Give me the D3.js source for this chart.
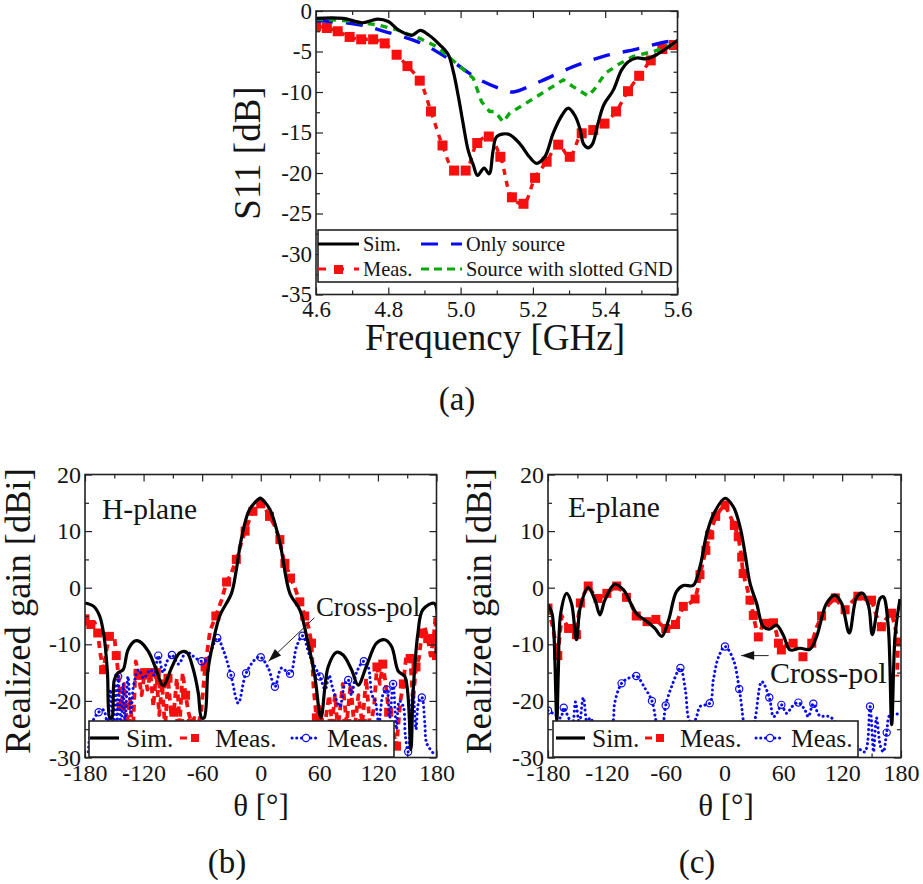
<!DOCTYPE html>
<html>
<head>
<meta charset="utf-8">
<script src="https://cdn.jsdelivr.net/npm/d3@7"></script>
<style>
  html, body { margin: 0; padding: 0; background: #fff; }
  svg { display: block; }
  text { font-family: "Liberation Serif", serif; fill: #141414; }
</style>
</head>
<body>
<div id="vis-container"></div>
<script>
const width = 923;
const height = 884;

// S11 panel, [frequency GHz, dB]
const s11Sim = [[4.6,-0.9],[4.675,-0.9],[4.73,-1.45],[4.77,-1.0],[4.8,-1.3],[4.83,-2.4],[4.865,-3.0],[4.888,-2.4],[4.91,-2.9],[4.943,-4.2],[4.966,-5.4],[4.98,-7.5],[4.994,-10.6],[5.007,-13.9],[5.021,-17.2],[5.035,-19.0],[5.047,-20.3],[5.065,-19.4],[5.079,-20.1],[5.09,-17.2],[5.1,-15.5],[5.132,-15.2],[5.164,-16.4],[5.19,-18],[5.21,-18.8],[5.233,-18],[5.256,-15.1],[5.28,-12.9],[5.298,-12],[5.316,-12.9],[5.33,-14.5],[5.34,-16.4],[5.353,-16.9],[5.365,-16.4],[5.38,-13.9],[5.396,-11.6],[5.422,-9.8],[5.445,-7.3],[5.463,-6.3],[5.487,-5.8],[5.514,-5.9],[5.542,-5.4],[5.57,-4.6],[5.6,-3.6]];
const s11Meas = [[4.6,-1.9],[4.63,-2.1],[4.66,-2.5],[4.693,-3.2],[4.725,-3.5],[4.758,-3.5],[4.79,-4],[4.823,-5.4],[4.853,-6.8],[4.887,-8.6],[4.918,-12.4],[4.95,-16.6],[4.982,-19.7],[5.014,-19.7],[5.046,-16.3],[5.078,-15.5],[5.11,-18],[5.142,-23],[5.174,-23.8],[5.206,-20.6],[5.238,-18.6],[5.27,-16.5],[5.302,-18],[5.335,-15.1],[5.367,-14.7],[5.398,-13.9],[5.43,-12.4],[5.463,-9.9],[5.494,-8],[5.526,-6.1],[5.558,-4.7],[5.59,-4.2]];
const s11Source = [[4.6,-1.2],[4.64,-1.3],[4.72,-1.7],[4.795,-2.6],[4.887,-3.9],[4.97,-6],[5.053,-8.5],[5.127,-9.85],[5.146,-10],[5.22,-8.7],[5.31,-6.9],[5.395,-5.6],[5.487,-4.7],[5.57,-3.8],[5.6,-3.7]];
const s11Slotted = [[4.6,-1],[4.685,-1.2],[4.73,-1.5],[4.77,-1.7],[4.823,-2.3],[4.888,-3.4],[4.934,-4.4],[4.989,-6.5],[5.035,-8.3],[5.058,-11.2],[5.08,-12.4],[5.095,-12.4],[5.118,-13.7],[5.136,-12.6],[5.173,-11.6],[5.238,-9.8],[5.284,-8.5],[5.31,-9.3],[5.353,-10.5],[5.371,-9.6],[5.4,-7.7],[5.44,-6.5],[5.478,-5.6],[5.533,-5],[5.6,-4]];

// H-plane panel, [theta deg, dBi]
const hSim = [[-180,-2.7],[-171,-3.3],[-165,-5],[-160.5,-8.6],[-157,-15],[-154.5,-23],[-152.5,-23],[-150,-16.3],[-146,-15],[-141,-14.5],[-136,-11],[-129,-9.4],[-124,-9.5],[-115,-11.3],[-107,-14.5],[-100,-17.3],[-91,-14],[-83,-11.5],[-76,-11.4],[-69,-14.5],[-64,-18.6],[-60.6,-23],[-58,-23],[-54,-14.5],[-49,-9.8],[-42,-5],[-30,-1],[-25,3.2],[-20,8.5],[-11.5,13.8],[-1,15.8],[0,15.8],[9.4,13.8],[19.6,7.9],[29.8,-1],[40,-3.9],[47,-8.6],[55.4,-15.7],[61.6,-23],[69,-14],[77.6,-11.4],[84.4,-11.9],[93,-14.5],[99.8,-17.2],[108,-14],[118.6,-9.8],[127,-9.2],[134,-10.4],[141,-14.8],[147.6,-15.7],[153.7,-28.6],[156,-18.6],[161,-8],[166,-3.9],[178,-2.8],[179.5,-11.6]];
const hMeas = [[-180,-5.5],[-177,-7],[-174,-6.5],[-170,-6.2],[-167,-8],[-164,-12],[-161,-14.5],[-158,-11],[-155,-8.6],[-150,-8.4],[-148,-12],[-146,-15],[-143,-21],[-140,-17],[-137,-24],[-134,-19.5],[-131,-26],[-128,-13],[-125,-15.5],[-122,-19],[-119,-15],[-116,-18],[-113,-15],[-110,-21],[-107,-15],[-104,-22.5],[-101,-17],[-98,-25],[-95,-16],[-92,-22],[-89,-22],[-86,-16],[-83,-24],[-80,-15],[-77,-19],[-74,-22],[-71,-24],[-68,-23],[-65,-25],[-61,-22],[-57,-14],[-52,-7.7],[-46,-5],[-40,-2.1],[-35,1],[-30.6,2.3],[-25,5],[-20,7.9],[-16,10],[-13,11.4],[-8,13.5],[-4.5,14.6],[0,14.8],[4,14.2],[9,12.6],[14,11],[19.6,8.5],[22,6],[24.7,4.3],[28,3],[30.5,1.7],[35,0],[40,-2.5],[43,-3.8],[45,-5],[49,-7],[52,-9.8],[54,-17.5],[57,-23],[60,-21],[65,-25],[70,-19],[73,-24],[76,-19],[79,-25],[84,-17],[88,-24],[92,-17],[96,-25],[100,-19],[104,-24],[108,-16],[112,-25],[116,-21],[119,-14],[122,-17],[125,-13.5],[128,-17],[131,-22],[135,-25],[139,-28],[143,-20],[146,-17],[149,-12],[153,-12.5],[156,-20],[159,-14],[162,-12.5],[165,-8],[168,-7],[171,-9],[174,-12],[177,-9],[179,-5],[180,-12]];
const hCross = [[-176.6,-29],[-173,-24],[-166,-22],[-161,-21.6],[-157,-24],[-154,-18],[-151,-25],[-149,-17],[-147,-24],[-146,-15.7],[-143,-25],[-141,-17],[-139,-24],[-136,-15.7],[-133,-22],[-130,-17],[-125,-14.5],[-120,-16],[-113,-14.5],[-109,-15.5],[-105,-12],[-100,-15],[-96,-13],[-91,-11.9],[-84.5,-13.5],[-76,-11.3],[-70,-12],[-60.6,-13],[-55,-12.7],[-44.5,-8.9],[-38.4,-11],[-30.6,-15.4],[-23,-20.4],[-15,-15.1],[-4,-12.4],[0,-12.3],[7.7,-14.2],[14.5,-17.5],[21.3,-14.2],[30,-15.2],[36.7,-10.4],[42.8,-8.5],[50.3,-12.1],[60.5,-15.7],[66,-18],[70,-15.5],[74,-18],[81,-21],[86,-17],[89.6,-16.3],[93,-19],[98,-15],[105.6,-13],[110,-14],[114,-19],[117,-19.8],[121,-24],[125,-19],[129,-18],[132,-23],[135.6,-17],[139,-25],[142,-20],[146,-21],[148,-26],[151,-29],[154,-22],[156,-18],[159,-25],[162,-20],[165,-19.4],[168,-24],[170,-27.5],[178,-29.5]];
const hRings = [-166,-146,-105,-91,-60.6,-44.5,-30.6,-15,0,14.5,30,42.8,60.5,89.6,105.6,129,135.6,151,165];

// E-plane panel, [theta deg, dBi]
const eSim = [[-180,-3],[-176,-4.5],[-174,-8],[-171,-23.4],[-169.5,-15],[-167,-4.5],[-161,-1],[-156,-2.8],[-151,-9.2],[-147,-3.4],[-139,0],[-132,-2.2],[-127,-4.8],[-122,-2.2],[-112,0.6],[-103,-0.4],[-90,-4.5],[-79,-6],[-71,-7.2],[-64,-8.6],[-57,-5.7],[-49,-0.7],[-42,0.4],[-32,0.4],[-25,3.7],[-18,9.6],[-11.4,12.9],[0.5,15.8],[9,14.3],[15.8,10.8],[21,6],[26,0.8],[32.8,-2.8],[39.6,-6.9],[46.4,-7.3],[53,-6.6],[60,-8.4],[66.8,-11],[77,-10.7],[87,-10.9],[94,-8.6],[104,-2.8],[112.7,-1.3],[119.5,-2.8],[127.3,-8],[135,-1.6],[141,-1],[147,-3.3],[150.8,-8.3],[158.6,-1.9],[162,-1.6],[167,-6.9],[170.5,-24.2],[174,-8.4],[179,-2]];
const eMeas = [[-180,-3.6],[-175,-7],[-170,-12],[-166,-5],[-159,-7.2],[-155,-7],[-151,-8.3],[-149,-5],[-147,-2.7],[-143,-1],[-139,0.3],[-134,-1],[-129,-1.9],[-124,-1.5],[-120,-1],[-115,-0.3],[-110,0.3],[-105,-0.5],[-100,-1.7],[-95,-3],[-90,-5],[-85,-5.5],[-79,-6],[-75,-6],[-70,-5.6],[-65,-6.5],[-60,-7.2],[-55,-7],[-50,-6.5],[-46,-5],[-42,-3.3],[-36,-2.8],[-30,-2],[-27,0],[-25,2.3],[-22,4.5],[-19,6.6],[-17,8],[-15,9.3],[-12,11],[-9,12.6],[-4,13.8],[0.5,14.6],[5,13],[10,11],[12,10],[14,9],[16,7],[17.5,5.4],[18,4],[19,2.5],[23,0],[26,-2.2],[28,-3.5],[29.4,-4.9],[32,-7],[34.5,-8.7],[38,-7],[41,-6.3],[46,-6.3],[50,-6.2],[53,-8],[55,-9.8],[57,-10.5],[58,-11],[64,-10],[70,-9.8],[75,-11],[80,-12.2],[85,-11],[89,-9.8],[94,-7],[99,-5],[106,-3],[113,-1.8],[118,-3],[123,-3.9],[130,-2.5],[136,-1.5],[143,-2],[150,-2.2],[155,-5],[160,-6.9],[165,-5.5],[170.5,-4.5],[174,-7],[177,-9.6],[176,-15.7]];
const eCross = [[-180,-21.7],[-173,-22.4],[-167,-23],[-164,-21.2],[-159,-23],[-155,-24],[-152,-20.2],[-148,-24],[-144,-19.4],[-140,-24],[-137,-23],[-128,-26],[-118,-26],[-113.4,-23.4],[-112,-20.4],[-105,-16.9],[-98,-16],[-90,-15.6],[-81,-17.8],[-74,-20],[-70,-23.4],[-66,-26],[-62,-23.4],[-60,-20.8],[-54,-17.5],[-45,-14.2],[-40,-18],[-36,-23.4],[-32,-24],[-28,-22.5],[-25,-21],[-15,-20.4],[-11.4,-16.3],[-6,-12.2],[0.5,-10.4],[9,-12.7],[15,-17.9],[17.5,-21],[19.2,-23.4],[25,-27],[31,-23.4],[38,-16.6],[45.7,-19.4],[50,-22.8],[54,-22],[58,-20.7],[63.4,-22.2],[69,-21],[75.3,-20.3],[82,-21.6],[85.5,-22.8],[90.6,-20.5],[97,-22.6],[107.6,-22.8],[118,-25],[130,-27],[143,-29],[148.4,-21],[152,-29],[155,-23],[159,-28],[162,-29],[165.4,-25.6],[169,-22.4],[179,-22.4]];
const eRings = [-180,-164,-105,-90,-74,-60,-45,-15,0.5,15,45.7,58,75.3,90.6,148.4,165.4];

// tick labels
const freqTicks = [4.6, 4.8, 5.0, 5.2, 5.4, 5.6];
const freqMinor = [4.7, 4.9, 5.1, 5.3, 5.5];
const s11Ticks = [0, -5, -10, -15, -20, -25, -30, -35];
const s11Minor = [-2.5, -7.5, -12.5, -17.5, -22.5, -27.5, -32.5];
const thetaTicks = [-180, -120, -60, 0, 60, 120, 180];
const thetaMinor = [-150, -90, -30, 30, 90, 150];
const gainTicks = [20, 10, 0, -10, -20, -30];
const gainMinor = [15, 5, -5, -15, -25];

const colors = { sim: "#000", meas: "#f50f0f", source: "#0a0aee", slotted: "#0aa80a", cross: "#0a0aee" };

const svg = d3.select("#vis-container")
  .append("svg")
  .attr("width", width)
  .attr("height", height);

// axes on all four sides with inward ticks
function addAxes(x, y, xTicks, xMinor, yTicks, yMinor, fontSize, fmtX) {
  const [x0, x1] = x.range();
  const [y0, y1] = y.range();
  const g = svg.append("g");

  const tickAxis = (axis, scale, values, size, tx, ty) => {
    g.append("g")
      .attr("transform", `translate(${tx},${ty})`)
      .call(axis(scale).tickValues(values).tickSizeInner(size).tickSizeOuter(0).tickFormat(""))
      .call((s) => s.selectAll("line").attr("stroke", "#222").attr("stroke-width", 1.2))
      .call((s) => s.select(".domain").remove());
  };
  tickAxis(d3.axisBottom, x, xMinor, -4, 0, y0);
  tickAxis(d3.axisTop, x, xMinor, -4, 0, y1);
  tickAxis(d3.axisTop, x, xTicks, -7, 0, y1);
  tickAxis(d3.axisLeft, y, yMinor, -4, x0, 0);
  tickAxis(d3.axisRight, y, yMinor, -4, x1, 0);
  tickAxis(d3.axisRight, y, yTicks, -7, x1, 0);

  g.append("g")
    .attr("transform", `translate(0,${y0})`)
    .call(d3.axisBottom(x).tickValues(xTicks).tickSizeInner(-7).tickSizeOuter(0).tickPadding(6).tickFormat(fmtX))
    .call((s) => s.selectAll("text").attr("font-size", fontSize).attr("font-family", "Liberation Serif").attr("fill", "#141414"))
    .call((s) => s.selectAll("line").attr("stroke", "#222").attr("stroke-width", 1.2))
    .call((s) => s.select(".domain").remove());
  g.append("g")
    .attr("transform", `translate(${x0},0)`)
    .call(d3.axisLeft(y).tickValues(yTicks).tickSizeInner(-7).tickSizeOuter(0).tickPadding(4).tickFormat((d) => String(d)))
    .call((s) => s.selectAll("text").attr("font-size", fontSize).attr("font-family", "Liberation Serif").attr("fill", "#141414"))
    .call((s) => s.selectAll("line").attr("stroke", "#222").attr("stroke-width", 1.2))
    .call((s) => s.select(".domain").remove());

  g.append("rect")
    .attr("x", x0).attr("y", y1)
    .attr("width", x1 - x0).attr("height", y0 - y1)
    .attr("fill", "none").attr("stroke", "#222").attr("stroke-width", 1.6);
}

let clipCount = 0;
function plotArea(x, y) {
  const id = "clip" + clipCount++;
  svg.append("clipPath").attr("id", id).append("rect")
    .attr("x", x.range()[0]).attr("y", y.range()[1])
    .attr("width", x.range()[1] - x.range()[0])
    .attr("height", y.range()[0] - y.range()[1]);
  return svg.append("g").attr("clip-path", `url(#${id})`);
}

function addLine(g, x, y, data, color, lineW, dash, curve) {
  const line = d3.line().x((d) => x(d[0])).y((d) => y(d[1])).curve(curve);
  return g.append("path")
    .attr("d", line(data))
    .attr("fill", "none")
    .attr("stroke", color)
    .attr("stroke-width", lineW)
    .attr("stroke-dasharray", dash)
    .attr("stroke-linecap", dash && dash.startsWith("0") ? "round" : "butt")
    .attr("stroke-linejoin", "round");
}

function addSquares(g, x, y, data, size) {
  g.selectAll(null).data(data).enter().append("rect")
    .attr("x", (d) => x(d[0]) - size / 2)
    .attr("y", (d) => y(d[1]) - size / 2)
    .attr("width", size).attr("height", size)
    .attr("fill", colors.meas);
}

function addRings(g, x, y, data, r) {
  g.selectAll(null).data(data).enter().append("circle")
    .attr("cx", (d) => x(d[0]))
    .attr("cy", (d) => y(d[1]))
    .attr("r", r)
    .attr("fill", "none")
    .attr("stroke", colors.cross)
    .attr("stroke-width", 1.2);
}

function label(tx, ty, str, size, anchor) {
  return svg.append("text")
    .attr("x", tx).attr("y", ty)
    .attr("font-size", size)
    .attr("text-anchor", anchor || "start")
    .text(str);
}

function legendBox(x0, y0, x1, y1) {
  svg.append("rect")
    .attr("x", x0).attr("y", y0)
    .attr("width", x1 - x0).attr("height", y1 - y0)
    .attr("fill", "#fff").attr("stroke", "#222").attr("stroke-width", 1.6);
}

function legendLine(x0, x1, ly, color, lineW, dash) {
  svg.append("line")
    .attr("x1", x0).attr("x2", x1).attr("y1", ly).attr("y2", ly)
    .attr("stroke", color).attr("stroke-width", lineW)
    .attr("stroke-dasharray", dash)
    .attr("stroke-linecap", dash && dash.startsWith("0") ? "round" : "butt");
}

function yTitle(tx, ty, str, size) {
  svg.append("text")
    .attr("transform", `translate(${tx},${ty}) rotate(-90)`)
    .attr("font-size", size)
    .attr("text-anchor", "middle")
    .text(str);
}

// Panel (a)
{
  const x = d3.scaleLinear().domain([4.6, 5.6]).range([316, 677.5]);
  const y = d3.scaleLinear().domain([-35, 0]).range([294.5, 11]);
  const g = plotArea(x, y);
  addLine(g, x, y, s11Meas, colors.meas, 3.4, "6 6", d3.curveCatmullRom);
  addSquares(g, x, y, s11Meas, 10);
  addLine(g, x, y, s11Source, colors.source, 3.4, "17 13", d3.curveCatmullRom);
  addLine(g, x, y, s11Slotted, colors.slotted, 3.4, "7 6", d3.curveLinear);
  addLine(g, x, y, s11Sim, colors.sim, 3.2, null, d3.curveCatmullRom);
  addAxes(x, y, freqTicks, freqMinor, s11Ticks, s11Minor, 23, d3.format(".1f"));

  legendBox(318, 230, 677.5, 282);
  legendLine(318, 359, 244, colors.sim, 3.2);
  legendLine(318, 359, 269, colors.meas, 3.2, "8 10");
  svg.append("rect").attr("x", 334).attr("y", 265).attr("width", 9).attr("height", 9).attr("fill", colors.meas);
  legendLine(421, 462, 244, colors.source, 3.2, "17 13");
  legendLine(421, 462, 269, colors.slotted, 3.2, "8 5");
  label(363, 251, "Sim.", 20.4);
  label(363, 276, "Meas.", 20.4);
  label(466, 251, "Only source", 20.4);
  label(466, 276, "Source with slotted GND", 20.4);

  label(495, 350, "Frequency [GHz]", 37, "middle");
  yTitle(260, 153, "S11 [dB]", 37);
  label(457, 410, "(a)", 33, "middle");
}

// Panels (b) and (c)
function gainPanel(x0, x1, sim, meas, cross, rings, step) {
  const x = d3.scaleLinear().domain([-180, 180]).range([x0, x1]);
  const y = d3.scaleLinear().domain([-30, 20]).range([757.5, 474.5]);
  const g = plotArea(x, y);
  addLine(g, x, y, meas, colors.meas, 3.8, "7 5", d3.curveLinear);
  addSquares(g, x, y, meas.filter((d, i) => i % step === 0), 9);
  addLine(g, x, y, cross, colors.cross, 3, "0.1 4.6", d3.curveCatmullRom);
  addRings(g, x, y, cross.filter((d) => rings.includes(d[0])), 3.6);
  addLine(g, x, y, sim, colors.sim, 3.2, null, d3.curveCatmullRom);
  addAxes(x, y, thetaTicks, thetaMinor, gainTicks, gainMinor, 24, (d) => String(d));
  return { x, y };
}

function crossArrow(tx, ty, fromX, fromY) {
  const ang = Math.atan2(fromY - ty, fromX - tx) * 180 / Math.PI;
  svg.append("line")
    .attr("x1", fromX).attr("y1", fromY).attr("x2", tx).attr("y2", ty)
    .attr("stroke", "#222").attr("stroke-width", 1);
  svg.append("path")
    .attr("d", "M0,0L13,-4.5L13,4.5Z")
    .attr("transform", `translate(${tx},${ty}) rotate(${ang})`)
    .attr("fill", "#111");
}

function gainLegend(xA, xB, xC) {
  legendLine(xA, xA + 29, 738, colors.sim, 3.2);
  label(xA + 36, 747, "Sim.", 25.5);
  legendLine(xB, xB + 19, 738, colors.meas, 3, "7 5");
  svg.append("rect").attr("x", xB + 11).attr("y", 734).attr("width", 8).attr("height", 8).attr("fill", colors.meas);
  label(xB + 35, 747, "Meas.", 25.5);
  legendLine(xC, xC + 28, 738, colors.cross, 3, "0.1 4.6");
  svg.append("circle").attr("cx", xC + 14).attr("cy", 738).attr("r", 3.6)
    .attr("fill", "#fff").attr("stroke", colors.cross).attr("stroke-width", 1.2);
  label(xC + 35, 747, "Meas.", 25.5);
}

{
  const p = gainPanel(85, 436.5, hSim, hMeas, hCross, hRings, 2);
  crossArrow(p.x(8), p.y(-13), p.x(55), p.y(-5.3));
  label(316, 616, "Cross-pol", 26.8);
  label(102, 519, "H-plane", 29.5);
  legendBox(89, 721, 394, 757);
  gainLegend(90, 180, 292);
  label(261, 816, "θ [°]", 31, "middle");
  yTitle(30, 611, "Realized gain [dBi]", 36.5);
  label(227, 873, "(b)", 33, "middle");
}

{
  const p = gainPanel(548, 901, eSim, eMeas, eCross, eRings, 2);
  crossArrow(p.x(17), p.y(-12), p.x(45), p.y(-12));
  label(770, 683, "Cross-pol", 30);
  label(568, 517, "E-plane", 29.5);
  legendBox(553, 721, 858, 757);
  gainLegend(556, 645, 756);
  label(726, 816, "θ [°]", 31, "middle");
  yTitle(491, 611, "Realized gain [dBi]", 36.5);
  label(697, 873, "(c)", 33, "middle");
}
</script>
</body>
</html>
